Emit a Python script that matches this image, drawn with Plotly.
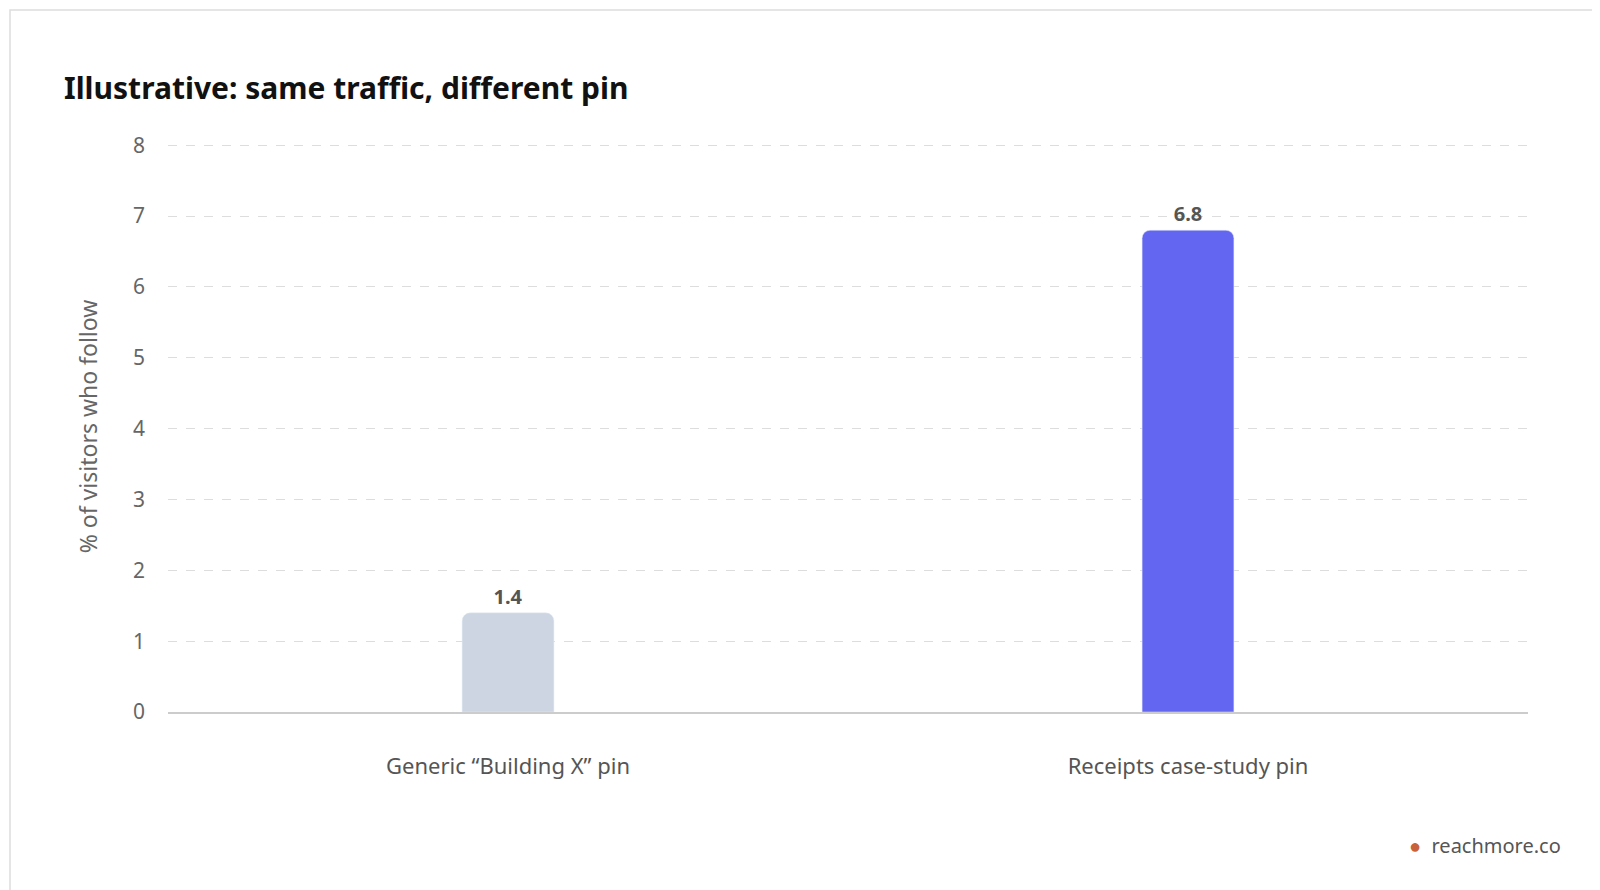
import plotly.graph_objects as go

categories = ["Generic “Building X” pin", "Receipts case-study pin"]
values = [1.4, 6.8]
colors = ["#cdd5e2", "#6366f1"]
y_ticks = [0, 1, 2, 3, 4, 5, 6, 7, 8]

L, R, T, B = 160, 80, 133, 186
PW, PH = 1600 - L - R, 890 - T - B

fig = go.Figure(go.Bar(
    x=categories, y=values, marker=dict(color=colors, cornerradius=8),
    text=[f"<b>{v:.1f}</b>" for v in values], textposition="outside",
    textfont=dict(size=20, color="#555", family="Noto Sans"),
    width=0.135, cliponaxis=False,
))
fig.update_layout(
    width=1600, height=890, paper_bgcolor="white", plot_bgcolor="white",
    margin=dict(l=L, r=R, t=T, b=B),
    font=dict(family="Noto Sans", color="#666"),
    title=dict(text="<b>Illustrative: same traffic, different pin</b>", x=56/1600, xanchor="left",
               y=1-80/890, yanchor="middle", font=dict(size=30, color="#111")),
    showlegend=False,
    shapes=[dict(type="rect", xref="paper", yref="paper", x0=-(L-2)/PW, x1=1+(R-2)/PW,
                 y0=-(B-2)/PH, y1=1+(T-2)/PH, line=dict(color="#ddd", width=1.5),
                 fillcolor="rgba(0,0,0,0)", layer="below")],
    annotations=[
        dict(text="<span style='color:#c8623c'>●</span>  reachmore.co", xref="paper", yref="paper",
             x=1+(R-45)/PW, xanchor="right", y=-(838-705)/PH, yanchor="middle",
             showarrow=False, font=dict(size=20, color="#555")),
    ],
)
fig.update_yaxes(range=[0, 8.06], tickvals=y_ticks, showgrid=True, gridcolor="#ddd", griddash="dash",
                 tickfont=dict(size=21, color="#666"), ticks="", ticklabelstandoff=22,
                 title=dict(text="% of visitors who follow", font=dict(size=23, color="#666"), standoff=28),
                 zeroline=False)
fig.update_xaxes(showline=True, linecolor="#ccc", linewidth=1.5, tickfont=dict(size=22, color="#555"),
                 ticks="outside", ticklen=34, tickcolor="rgba(0,0,0,0)")
fig.write_html("out.html")
